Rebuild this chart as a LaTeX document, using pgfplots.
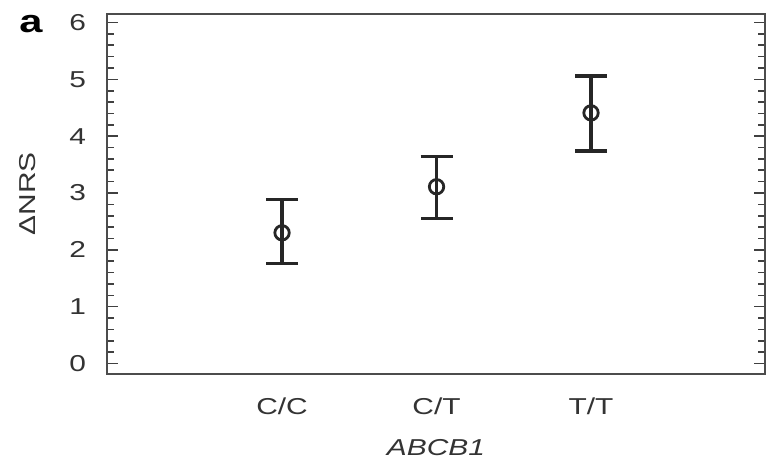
\documentclass[border=0pt]{standalone}
\usepackage{fontspec}
\setmainfont{Liberation Sans}[FakeStretch=1.3]
\usepackage{pgfplots}
\usepackage{pgfplotstable}
\pgfplotsset{compat=1.18}
\pgfplotstableread{
x y ep em
0 2.30 0.58 0.54
1 3.11 0.53 0.56
2 4.41 0.65 0.67
}\datatab
\begin{document}
\begin{tikzpicture}
\begin{axis}[
  scale only axis,
  width=329pt, height=180pt,
  xmin=-1.133, xmax=3.126,
  ymin=-0.185, ymax=6.15,
  axis line style={draw=black!70, line width=1pt},
  xtick={0,1,2},
  xticklabels={C/C,C/T,T/T},
  xtick style={draw=none},
  ytick={0,1,2,3,4,5,6},
  minor y tick num=4,
  tick align=inside,
  major tick length=5.5pt,
  minor tick length=3.5pt,
  ytick style={draw=black!75, line width=0.8pt},
  /pgf/number format/assume math mode=true,
  tick label style={font=\fontsize{11.5}{13}\selectfont, text=black!80},
  yticklabel style={xshift=-7pt},
  xticklabel style={yshift=-8.2pt},
  xlabel={\itshape ABCB1},
  xlabel style={at={(axis description cs:0.5,0)}, anchor=north, yshift=-29pt, font=\fontsize{11.5}{13}\selectfont, text=black!80},
  clip=false,
]
\addplot[black!85, only marks, mark=o, mark size=3.6pt, mark options={line width=1.4pt},
  error bars/.cd, y dir=both, y explicit,
  error bar style={line width=1.6pt, black!85},
  error mark options={rotate=90, mark size=8pt, line width=1.6pt, black!85}]
  table[x=x, y=y, y error plus=ep, y error minus=em] {\datatab};
\end{axis}
\node[font=\fontsize{11.5}{13}\selectfont, text=black!80, rotate=90, anchor=center] at ([xshift=-39.5pt]current axis.west) {ΔNRS};
\node[font=\bfseries\fontsize{16}{16}\selectfont, anchor=center] at ([xshift=-38pt, yshift=-5pt]current axis.north west) {a};
\pgfresetboundingbox
\path ([xshift=-53.5pt, yshift=-46pt]current axis.south west) rectangle ([xshift=4.5pt, yshift=7pt]current axis.north east);
\end{tikzpicture}
\end{document}
